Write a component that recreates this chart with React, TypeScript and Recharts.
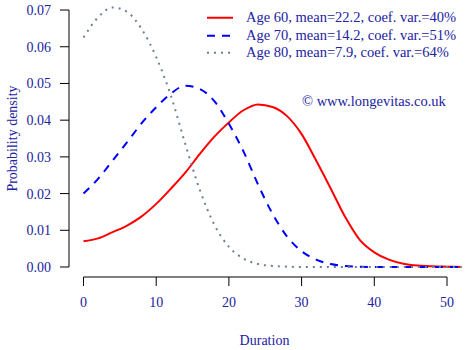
import { LineChart, Line, XAxis, YAxis, ReferenceLine } from "recharts";

const durations = [
  0, 2, 4, 6, 8, 10, 12, 14, 16, 18, 20, 22, 24, 26, 28, 30, 32, 34, 36, 38,
  40, 42, 44, 46, 48, 50, 52,
];

const age60 = [
  0.007, 0.0078, 0.0095, 0.0113, 0.0138, 0.0172, 0.0213, 0.0257, 0.0308,
  0.0355, 0.0394, 0.0427, 0.0443, 0.0436, 0.0411, 0.0362, 0.029, 0.0214,
  0.0136, 0.0074, 0.004, 0.002, 0.0009, 0.0004, 0.0002, 0.0001, 0.0,
];

const age70 = [
  0.02, 0.024, 0.029, 0.034, 0.0392, 0.0435, 0.0472, 0.0494, 0.0485, 0.0452,
  0.039, 0.0315, 0.0225, 0.0145, 0.0083, 0.0043, 0.002, 0.0008, 0.0003,
  0.0001, 0, 0, 0, 0, 0, 0, 0,
];

const age80 = [
  0.0625, 0.068, 0.0707, 0.0695, 0.0648, 0.0572, 0.0468, 0.0335, 0.021,
  0.0115, 0.0055, 0.0023, 0.0008, 0.0003, 0.0001, 0, 0, 0, 0, 0, 0, 0, 0, 0,
  0, 0, 0,
];

const seriesNames = [
  "Age 60, mean=22.2, coef. var.=40%",
  "Age 70, mean=14.2, coef. var.=51%",
  "Age 80, mean=7.9, coef. var.=64%",
];
const seriesColors = ["#ff0000", "#0000ff", "#708090"];
const seriesDash = [undefined, "8 7", "2 5"];

const xTicks = [0, 10, 20, 30, 40, 50];
const yTicks = [0, 0.01, 0.02, 0.03, 0.04, 0.05, 0.06, 0.07];

const X_MIN = -1.995;
const X_MAX = 52.2;
const Y_MIN = -0.00272;
const Y_MAX = 0.0711;

const FONT = '"Liberation Serif", "Times New Roman", serif';
const TEXT = "#2222a0";

const data = durations.map((d, i) => ({
  duration: d,
  a60: age60[i],
  a70: age70[i],
  a80: age80[i],
}));

export default function App() {
  const keys = ["a60", "a70", "a80"];
  return (
    <div
      style={{
        position: "absolute",
        left: 0,
        top: 0,
        width: 470,
        height: 350,
        background: "#fff",
        fontFamily: FONT,
      }}
    >
      <LineChart
        width={470}
        height={350}
        data={data}
        margin={{ top: 6, right: 7, bottom: 0, left: 0 }}
      >
        <XAxis
          dataKey="duration"
          type="number"
          domain={[X_MIN, X_MAX]}
          ticks={xTicks}
          axisLine={false}
          tickLine={{ stroke: "#000" }}
          tickSize={9}
          tickMargin={11}
          height={73}
          tick={{ fill: TEXT, fontSize: 14, fontFamily: FONT }}
          label={{
            value: "Duration",
            position: "center",
            dx: -1.5,
            dy: 26.5,
            fill: TEXT,
            fontSize: 14,
            fontFamily: FONT,
          }}
        />
        <YAxis
          type="number"
          domain={[Y_MIN, Y_MAX]}
          ticks={yTicks}
          axisLine={false}
          tickLine={{ stroke: "#000" }}
          tickSize={9}
          tickMargin={9}
          width={69}
          tickFormatter={(v: number) => v.toFixed(2)}
          tick={{ fill: TEXT, fontSize: 14, fontFamily: FONT }}
          label={{
            value: "Probability density",
            position: "center",
            angle: -90,
            dx: -22,
            dy: -3,
            fill: TEXT,
            fontSize: 14,
            fontFamily: FONT,
          }}
        />
        <ReferenceLine
          segment={[
            { x: X_MIN, y: 0 },
            { x: X_MIN, y: 0.07 },
          ]}
          stroke="#000"
          ifOverflow="visible"
        />
        <ReferenceLine
          segment={[
            { x: 0, y: Y_MIN },
            { x: 50, y: Y_MIN },
          ]}
          stroke="#000"
          ifOverflow="visible"
        />
        {keys.map((k, i) => (
          <Line
            key={k}
            dataKey={k}
            type="monotone"
            stroke={seriesColors[i]}
            strokeWidth={2}
            strokeDasharray={seriesDash[i]}
            dot={false}
            isAnimationActive={false}
          />
        ))}
      </LineChart>

      <div
        style={{
          position: "absolute",
          left: 207,
          top: 9,
          fontSize: 14.5,
          lineHeight: "17.5px",
          color: TEXT,
        }}
      >
        {seriesNames.map((name, i) => (
          <div key={name} style={{ display: "flex", alignItems: "center" }}>
            <svg width={26} height={17.5} style={{ marginRight: 13 }}>
              <line
                x1={0}
                x2={26}
                y1={8.75}
                y2={8.75}
                stroke={seriesColors[i]}
                strokeWidth={2}
                strokeDasharray={seriesDash[i]}
              />
            </svg>
            <span style={{ whiteSpace: "nowrap" }}>{name}</span>
          </div>
        ))}
      </div>

      <div
        style={{
          position: "absolute",
          left: 302,
          top: 93,
          fontSize: 14.5,
          lineHeight: "17.5px",
          color: TEXT,
          whiteSpace: "nowrap",
        }}
      >
        © www.longevitas.co.uk
      </div>
    </div>
  );
}
